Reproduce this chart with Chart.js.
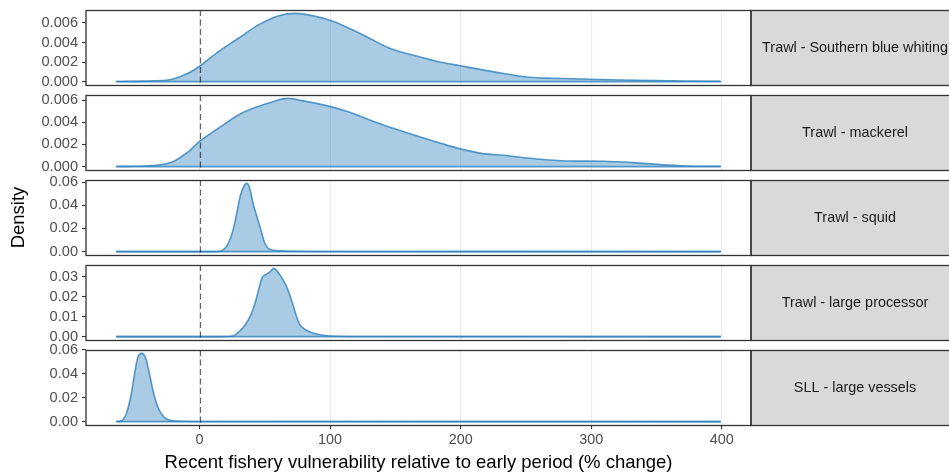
<!DOCTYPE html>
<html>
<head>
<meta charset="utf-8">
<script src="https://cdn.jsdelivr.net/npm/chart.js@4.4.0/dist/chart.umd.min.js"></script>
<style>
  body { margin: 0; background: #fff; }
  #wrap { position: relative; width: 949px; height: 472px; overflow: hidden; }
  #wrap canvas { position: absolute; left: 0; }
</style>
</head>
<body>
<div id="wrap">
  <canvas id="p0" width="949" height="95" style="top:0px"></canvas>
  <canvas id="p1" width="949" height="95" style="top:85px"></canvas>
  <canvas id="p2" width="949" height="95" style="top:170px"></canvas>
  <canvas id="p3" width="949" height="95" style="top:255px"></canvas>
  <canvas id="p4" width="949" height="132" style="top:340px"></canvas>
</div>
<script>
// facet labels, top to bottom
const fisheries = ['Trawl - Southern blue whiting', 'Trawl - mackerel', 'Trawl - squid',
                   'Trawl - large processor', 'SLL - large vessels'];

const xTicks = [0, 100, 200, 300, 400];

// density estimates (x = % change, y = density)
const sbwX = [-63.8, -50, -36, -21, -8, 0, 14.8, 30.1, 45.4, 60.8, 73.6, 86.3, 100.4, 117, 129.8,
              145, 169, 184, 199, 220, 235, 253, 271, 299, 322, 347, 370, 399.2];
const sbwY = [0.00001, 0.00002, 0.00007, 0.00024, 0.0009, 0.00157, 0.0031, 0.00446, 0.00583, 0.00675,
              0.00698, 0.00675, 0.00625, 0.0053, 0.00446, 0.00344, 0.00252, 0.00201, 0.00164, 0.00112,
              0.00078, 0.00044, 0.00034, 0.00024, 0.00017, 0.0001, 0.00005, 0.00003];

const mackerelX = [-63.8, -50, -36, -21, -8, 0, 14.8, 30.1, 45.4, 55.6, 67.1, 78.6, 100.4, 114.4,
                   129.8, 147.6, 169, 184, 199, 217, 232.5, 258, 281, 309, 332, 352.6, 373, 399.2];
const mackerelY = [0.00001, 0.00003, 0.00009, 0.00042, 0.0014, 0.00228, 0.00348, 0.00468, 0.00544,
                   0.00583, 0.00615, 0.00595, 0.00541, 0.00492, 0.00423, 0.00348, 0.00267, 0.00213,
                   0.00162, 0.00117, 0.00102, 0.00069, 0.00051, 0.00048, 0.00036, 0.00018, 0.00006, 0.00003];

const squidX = [-63.8, 10, 16, 17.9, 21.7, 25.5, 28.6, 31.2, 34.5, 36.3, 38.3, 40.9, 43.4, 46.5,
                49.8, 53.6, 61.3, 71.5, 100, 399.2];
const squidY = [0, 0, 0.0003, 0.0014, 0.0063, 0.0178, 0.0336, 0.048, 0.0575, 0.0589, 0.0552, 0.0422,
                0.0322, 0.0207, 0.0078, 0.002, 0.0006, 0.0003, 0.0001, 0];

const processorX = [-63.8, 15, 25.5, 29.4, 34.5, 39.6, 43.4, 46, 48, 51.1, 54.2, 56.7, 61.3, 66.4,
                    70.2, 74.1, 76.6, 80.5, 86.8, 94.5, 105, 130, 399.2];
const processorY = [0, 0, 0.0003, 0.002, 0.0055, 0.0113, 0.0188, 0.0255, 0.0297, 0.0313, 0.0327,
                    0.0343, 0.0313, 0.0255, 0.0188, 0.0105, 0.0063, 0.0038, 0.0018, 0.0007, 0.0002,
                    0.00005, 0];

const sllX = [-63.8, -60, -56.2, -52.3, -49.8, -47.3, -44.2, -41.4, -38.3, -35, -31.2, -26.8, -21.7,
              -12.8, 0, 399.2];
const sllY = [0.0001, 0.0006, 0.0061, 0.0229, 0.0396, 0.0536, 0.0571, 0.0536, 0.0396, 0.0229, 0.0103,
              0.0033, 0.0008, 0.0003, 0.0001, 0];

// y tick values per panel
const sbwTicks = [0, 0.002, 0.004, 0.006];
const mackerelTicks = [0, 0.002, 0.004, 0.006];
const squidTicks = [0, 0.02, 0.04, 0.06];
const processorTicks = [0, 0.01, 0.02, 0.03];
const sllTicks = [0, 0.02, 0.04, 0.06];
const tickDigits = [3, 3, 2, 2, 2];

const panels = [
  { xs: sbwX, ys: sbwY, ticks: sbwTicks },
  { xs: mackerelX, ys: mackerelY, ticks: mackerelTicks },
  { xs: squidX, ys: squidY, ticks: squidTicks },
  { xs: processorX, ys: processorY, ticks: processorTicks },
  { xs: sllX, ys: sllY, ticks: sllTicks }
];

const FONT = '"Liberation Sans", Arial, Helvetica, sans-serif';
Chart.defaults.font.family = FONT;

const lineColor = 'rgba(49, 130, 189, 0.8)';
const fillColor = 'rgba(49, 130, 189, 0.42)';

// shared x range, padded 5% either side like ggplot
const allX = panels.flatMap(p => p.xs);
const dataMin = Math.min(...allX), dataMax = Math.max(...allX);
const xPad = (dataMax - dataMin) * 0.05;

// panel border, dashed zero line and the grey facet strip on the right
const facetFrame = {
  id: 'facetFrame',
  afterDatasetsDraw(chart) {
    const { ctx, chartArea: a, scales: { x } } = chart;
    const zx = Math.round(x.getPixelForValue(0)) + 0.5;
    ctx.save();
    ctx.strokeStyle = 'rgba(0,0,0,0.6)';
    ctx.lineWidth = 1.2;
    ctx.setLineDash([6, 3.5]);
    ctx.beginPath();
    ctx.moveTo(zx, a.top);
    ctx.lineTo(zx, a.bottom);
    ctx.stroke();
    ctx.restore();
  },
  afterDraw(chart, args, opts) {
    const { ctx, chartArea: a } = chart;
    const stripW = 208;
    ctx.save();
    ctx.fillStyle = '#d9d9d9';
    ctx.fillRect(a.right, a.top, stripW, a.height);
    ctx.strokeStyle = '#333333';
    ctx.lineWidth = 1.3;
    ctx.strokeRect(a.left, a.top + 0.5, a.width, a.height);
    ctx.strokeRect(a.right, a.top + 0.5, stripW, a.height);
    ctx.fillStyle = '#1a1a1a';
    ctx.font = '14.4px ' + FONT;
    ctx.textAlign = 'center';
    ctx.textBaseline = 'middle';
    ctx.fillText(opts.label, a.right + stripW / 2, (a.top + a.bottom) / 2 + 1);
    ctx.restore();
  }
};

panels.forEach((p, i) => {
  const last = i === panels.length - 1;
  const peak = Math.max(...p.ys);
  new Chart(document.getElementById('p' + i), {
    type: 'line',
    data: {
      datasets: [
        {
          data: p.xs.map((x, k) => ({ x: x, y: p.ys[k] })),
          borderColor: lineColor,
          backgroundColor: fillColor,
          borderWidth: 1.6,
          fill: 'origin',
          pointRadius: 0,
          cubicInterpolationMode: 'monotone'
        },
        {
          // bottom edge of the density outline
          data: [{ x: p.xs[0], y: 0 }, { x: p.xs[p.xs.length - 1], y: 0 }],
          borderColor: lineColor,
          borderWidth: 1.6,
          fill: false,
          pointRadius: 0
        }
      ]
    },
    options: {
      responsive: false,
      animation: false,
      layout: { padding: { top: 10, right: 198, bottom: last ? 0 : 10, left: 0 } },
      plugins: {
        legend: { display: false },
        tooltip: { enabled: false },
        facetFrame: { label: fisheries[i] }
      },
      scales: {
        x: {
          type: 'linear',
          min: dataMin - xPad,
          max: dataMax + xPad,
          afterBuildTicks: s => { s.ticks = xTicks.map(v => ({ value: v })); },
          afterFit: s => {
            s.height = last ? 47 : 0;
            s.paddingLeft = 0;
            s.paddingRight = 0;
          },
          ticks: { display: last, color: '#4d4d4d', font: { size: 14.4 }, padding: 2, maxRotation: 0, autoSkip: false },
          grid: { color: '#ebebeb', lineWidth: 1.1, drawTicks: last, tickLength: 4, tickColor: '#333333' },
          border: { display: false },
          title: {
            display: last,
            text: 'Recent fishery vulnerability relative to early period (% change)',
            color: '#000',
            font: { size: 18.5 },
            padding: { top: 0, bottom: -2 }
          }
        },
        y: {
          min: -0.05 * peak,
          max: 1.05 * peak,
          afterBuildTicks: s => { s.ticks = p.ticks.map(v => ({ value: v })); },
          afterFit: s => {
            s.width = 86;
            s.paddingTop = 0;
            s.paddingBottom = 0;
          },
          ticks: {
            color: '#4d4d4d',
            font: { size: 14.6 },
            padding: 4,
            callback: v => v.toFixed(tickDigits[i])
          },
          grid: { drawOnChartArea: false, tickLength: 4, tickColor: '#333333', tickWidth: 1.1 },
          border: { display: false },
          title: {
            display: i === 2,
            text: 'Density',
            color: '#000',
            font: { size: 18.5 },
            padding: { top: 8, bottom: 0 }
          }
        }
      }
    },
    plugins: [facetFrame]
  });
});
</script>
</body>
</html>
